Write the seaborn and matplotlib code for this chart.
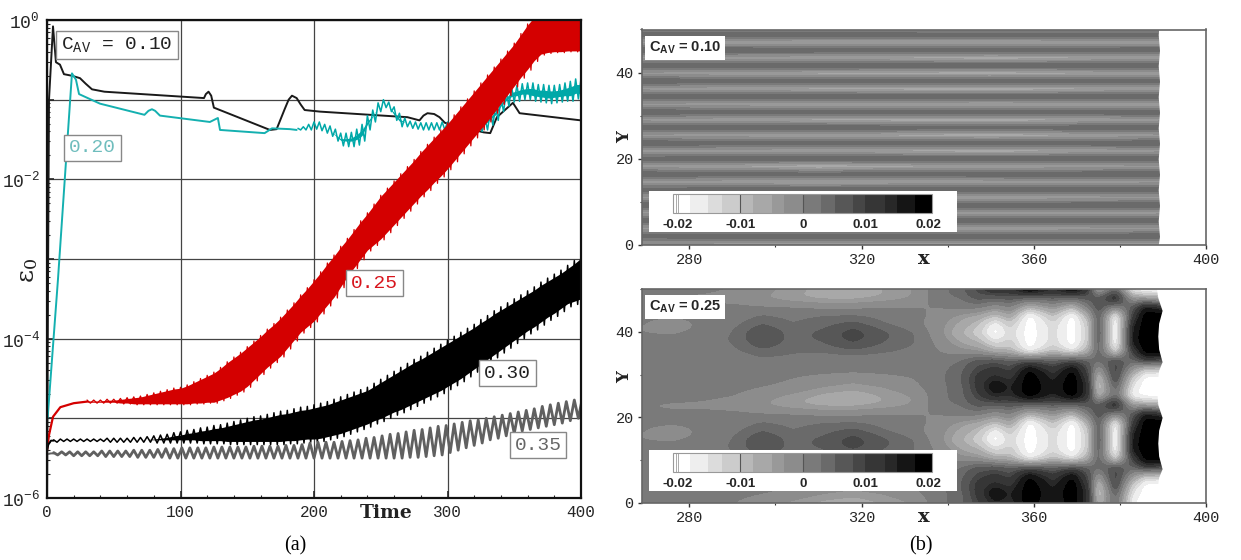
import numpy as np
import matplotlib
matplotlib.use("Agg")
import matplotlib.pyplot as plt
import seaborn as sns
from matplotlib.ticker import FixedLocator, NullFormatter

# ----- growth curves, values are log10(eps0) -----
t_010 = [0, 0.7, 1.5, 4.5, 6.7, 9.7, 12.7, 18.7, 24.7, 29, 33.7, 43, 117.6, 119, 121, 123, 125, 167, 172, 178, 181,
         183.5, 187, 190, 193, 204.5, 270, 279, 282, 285, 290, 294, 298, 327, 332, 337, 349, 354, 400]
log_010 = [-6, -3.51, -1.0, -0.08, -0.53, -0.56, -0.68, -0.70, -0.73, -0.80, -0.87, -0.90, -0.98, -0.93, -0.90,
           -0.95, -1.10, -1.38, -1.37, -1.12, -1.00, -0.95, -0.98, -1.06, -1.13, -1.15, -1.22, -1.26, -1.20, -1.17,
           -1.18, -1.22, -1.29, -1.41, -1.42, -1.22, -1.04, -1.17, -1.26]

t_020 = [0.5, 8.2, 18.7, 21.7, 24, 39.7, 73, 76, 78.6, 81, 84.6, 122, 128, 129.6, 163, 168.5, 182, 187]
log_020 = [-4.99, -3.26, -0.67, -0.75, -0.93, -1.05, -1.19, -1.14, -1.12, -1.14, -1.20, -1.28, -1.23, -1.38, -1.42,
           -1.36, -1.37, -1.38]
# oscillating part of 0.20, one peak and one trough every 4 time units from t = 188
hi_020 = [-1.36, -1.34, -1.31, -1.28, -1.28, -1.31, -1.33, -1.37, -1.42, -1.42, -1.41, -1.37, -1.31, -1.20, -1.13,
          -1.04, -1.00, -1.03, -1.09, -1.17, -1.23, -1.27, -1.28, -1.29, -1.29, -1.29, -1.29, -1.28, -1.28, -1.30,
          -1.30, -1.30, -1.30, -1.30, -1.31, -1.23, -1.15, -1.08, -0.98, -0.90, -0.84, -0.82, -0.80, -0.79, -0.79,
          -0.81, -0.81, -0.82, -0.82, -0.81, -0.79, -0.77, -0.74, -0.74]
lo_020 = [-1.38, -1.38, -1.38, -1.37, -1.39, -1.42, -1.46, -1.52, -1.58, -1.59, -1.59, -1.57, -1.52, -1.38, -1.28,
          -1.15, -1.10, -1.15, -1.26, -1.34, -1.34, -1.36, -1.37, -1.38, -1.38, -1.38, -1.38, -1.38, -1.39, -1.39,
          -1.39, -1.39, -1.39, -1.39, -1.40, -1.38, -1.32, -1.26, -1.15, -1.08, -1.03, -1.02, -1.00, -1.00, -1.02,
          -1.03, -1.04, -1.05, -1.04, -1.03, -1.02, -1.02, -0.99, -0.99]

t_025 = [0, 1.5, 4.5, 10, 20, 30]
log_025 = [-5.40, -5.21, -4.98, -4.86, -4.81, -4.79]
# 0.25 envelope, every 5 time units from t = 30
hi_025 = [-4.77, -4.77, -4.77, -4.76, -4.76, -4.75, -4.74, -4.73, -4.72, -4.70, -4.68, -4.66, -4.64, -4.62, -4.61,
          -4.58, -4.54, -4.50, -4.46, -4.42, -4.36, -4.29, -4.23, -4.17, -4.10, -4.03, -3.96, -3.88, -3.81, -3.73,
          -3.64, -3.55, -3.45, -3.36, -3.26, -3.16, -3.05, -2.95, -2.84, -2.74, -2.63, -2.52, -2.42, -2.31, -2.20,
          -2.11, -2.02, -1.93, -1.84, -1.75, -1.65, -1.56, -1.47, -1.38, -1.29, -1.19, -1.09, -0.99, -0.89, -0.79,
          -0.69, -0.59, -0.49, -0.39, -0.29, -0.17, -0.05, 0.05, 0.1, 0.1, 0.1, 0.1, 0.1, 0.1, 0.1]
lo_025 = [-4.81, -4.81, -4.81, -4.81, -4.81, -4.82, -4.82, -4.83, -4.83, -4.83, -4.83, -4.83, -4.83, -4.83, -4.83,
          -4.83, -4.82, -4.82, -4.81, -4.81, -4.78, -4.75, -4.71, -4.67, -4.61, -4.53, -4.45, -4.37, -4.30, -4.23,
          -4.13, -4.03, -3.93, -3.86, -3.79, -3.69, -3.59, -3.49, -3.36, -3.23, -3.12, -3.01, -2.90, -2.83, -2.76,
          -2.67, -2.58, -2.49, -2.40, -2.31, -2.22, -2.14, -2.05, -1.97, -1.88, -1.78, -1.68, -1.58, -1.48, -1.38,
          -1.28, -1.17, -1.06, -0.95, -0.84, -0.73, -0.63, -0.52, -0.44, -0.42, -0.41, -0.41, -0.40, -0.40, -0.40]

t_030 = [0, 1, 3, 5]
log_030 = [-5.40, -5.33, -5.28, -5.28]
# 0.30 envelope, every 5 time units from t = 5
hi_030 = [-5.27, -5.26, -5.26, -5.26, -5.26, -5.26, -5.26, -5.26, -5.25, -5.25,
          -5.25, -5.25, -5.24, -5.24, -5.23, -5.22, -5.21, -5.20, -5.18, -5.17,
          -5.15, -5.14, -5.12, -5.11, -5.09, -5.08, -5.06, -5.04, -5.02, -5.00,
          -4.98, -4.97, -4.95, -4.93, -4.91, -4.90, -4.88, -4.86, -4.85, -4.83,
          -4.81, -4.79, -4.76, -4.73, -4.70, -4.67, -4.64, -4.61, -4.56, -4.51,
          -4.46, -4.41, -4.36, -4.31, -4.26, -4.22, -4.17, -4.12, -4.07, -4.02,
          -3.97, -3.92, -3.87, -3.82, -3.76, -3.71, -3.65, -3.60, -3.55, -3.50,
          -3.45, -3.40, -3.35, -3.29, -3.24, -3.19, -3.14, -3.08, -3.02, -2.95]
lo_030 = [-5.30, -5.29, -5.29, -5.29, -5.29, -5.29, -5.29, -5.29, -5.30, -5.30,
          -5.30, -5.30, -5.30, -5.30, -5.30, -5.31, -5.31, -5.31, -5.31, -5.31,
          -5.31, -5.31, -5.32, -5.32, -5.32, -5.32, -5.33, -5.33, -5.33, -5.33,
          -5.33, -5.33, -5.33, -5.33, -5.33, -5.32, -5.32, -5.31, -5.30, -5.30,
          -5.29, -5.27, -5.25, -5.23, -5.20, -5.17, -5.14, -5.11, -5.07, -5.04,
          -5.00, -4.96, -4.93, -4.89, -4.85, -4.81, -4.77, -4.73, -4.69, -4.64,
          -4.59, -4.54, -4.48, -4.42, -4.36, -4.30, -4.24, -4.18, -4.12, -4.06,
          -4.00, -3.94, -3.89, -3.83, -3.77, -3.72, -3.66, -3.60, -3.57, -3.54]

t_035 = [0, 3, 5]
log_035 = [-5.45, -5.44, -5.44]
# 0.35 envelope, every 6 time units from t = 5
hi_035 = [-5.43, -5.42, -5.42, -5.42, -5.42, -5.42, -5.41, -5.41, -5.41, -5.41, -5.40, -5.40, -5.40, -5.39, -5.38,
          -5.38, -5.37, -5.37, -5.37, -5.37, -5.36, -5.36, -5.36, -5.36, -5.36, -5.35, -5.35, -5.35, -5.35, -5.34,
          -5.34, -5.33, -5.31, -5.30, -5.30, -5.30, -5.29, -5.28, -5.27, -5.25, -5.24, -5.22, -5.20, -5.19, -5.17,
          -5.15, -5.14, -5.12, -5.10, -5.09, -5.07, -5.05, -5.03, -5.02, -5.00, -4.98, -4.96, -4.94, -4.92, -4.90,
          -4.88, -4.85, -4.83, -4.81, -4.79, -4.77, -4.75]
lo_035 = [-5.46, -5.46, -5.47, -5.47, -5.47, -5.47, -5.48, -5.48, -5.48, -5.48, -5.49, -5.49, -5.49, -5.49, -5.50,
          -5.50, -5.50, -5.50, -5.50, -5.50, -5.50, -5.50, -5.50, -5.50, -5.50, -5.50, -5.50, -5.50, -5.50, -5.50,
          -5.50, -5.50, -5.50, -5.50, -5.50, -5.50, -5.50, -5.50, -5.50, -5.50, -5.50, -5.50, -5.50, -5.50, -5.49,
          -5.49, -5.48, -5.47, -5.46, -5.43, -5.40, -5.37, -5.34, -5.31, -5.27, -5.25, -5.22, -5.19, -5.16, -5.14,
          -5.12, -5.10, -5.08, -5.06, -5.03, -5.00, -4.97]

# ----- contour fields, in units of 1e-3 -----
contour_levels = [-20.74, -20.32, -19.95, -18.09, -15.16, -12.98, -10.05, -7.98, -5.00, -3.03, 0, 2.82, 5.05,
                  7.98, 9.89, 13.03, 14.95, 17.87, 20.53]
contour_grays = ["#ffffff", "#ffffff", "#ffffff", "#eeeeee", "#dcdcdc", "#cccccc", "#b8b8b8", "#a8a8a8", "#999999",
                 "#8c8c8c", "#7a7a7a", "#6a6a6a", "#575757", "#464646", "#363636", "#282828", "#151515", "#000000"]

# C_AV = 0.10, stripes along x
x_010 = [269, 310, 350, 390]
y_010 = [0, 0.25, 2.05, 3.85, 5.65, 7.45, 9.25, 11.05, 12.85, 14.65, 16.45, 18.25, 20.05, 21.85, 23.65, 25.45, 27.25,
         29.05, 30.85, 32.65, 34.45, 36.25, 38.05, 39.85, 41.65, 43.45, 45.25, 47.05, 48.85, 50]
field_010 = [[-4, -5, -5, -5], [-4, -5, -5, -5], [5, 6, 6, 6], [-5, -6, -6, -5], [6, 6, 6, 6], [-5, -6, -6, -5],
             [6, 6, 6, 6], [-5, -6, -6, -5], [5, 6, 6, 6], [-5, -7, -6, -5], [6, 5, 6, 6], [-5, -8, -6, -5],
             [5, 6, 6, 6], [-5, -6, -8, -5], [6, 5, 6, 6], [-5, -6, -8, -5], [6, 6, 5, 6], [-5, -7, -8, -5],
             [6, 5, 6, 6], [-5, -6, -7, -6], [6, 6, 6, 6], [-5, -7, -8, -6], [6, 5, 6, 6], [-5, -7, -8, -6],
             [6, 6, 6, 6], [-5, -6, -8, -6], [6, 6, 6, 6], [-5, -7, -7, -6], [6, 6, 6, 6], [-3, -3, -4, -4]]
edge_y_010 = [0, 2, 5.6, 9.2, 12.8, 16.4, 20, 23.6, 27.2, 30.8, 34.4, 38, 41.6, 45.2, 48.8, 50]
edge_x_010 = [388.9, 389.2, 388.9, 389.2, 388.9, 389.2, 388.9, 389.2, 388.9, 389.2, 388.9, 389.2, 388.9, 389.2, 388.9, 389]

# C_AV = 0.25, one spanwise period (y = 0 to 25), repeated twice
x_025 = [269, 276, 283, 290, 297, 304, 311, 318, 325, 332, 338, 343, 347, 351, 354.5, 359, 364.5, 369, 372.5, 375, 379,
         383, 386, 390]
y_025 = [0, 2.1, 4.2, 6.25, 8.3, 10.4, 12.5, 14.6, 16.7, 18.75, 20.8, 22.9]
field_025 = [
    [2, 2, 1, 0, -2, -4, -6, -7, -5, -3, 2, 4, 9, 14, 13, 20, 14, 20, 12, -8, 3, -18, -20, -20],
    [2, 2, 2, 1, 0, -1, -3, -4, -3, -1, 2, 4, 11, 18, 15, 20, 16, 20, 13, -12, 5, -16, -20, -20],
    [1, 1, 1, 1, 1, 0, -1, -2, -1, 0, 2, 5, 11, 14, 12, 20, 14, 20, 11, -10, 9, -12, -20, -20],
    [1, 1, 1, 1, 1, 1, 1, 1, 1, 1, 2, 4, 9, 11, 9, 18, 11, 18, 8, -4, 10, -4, -12, -12],
    [1, 1, 1, 1, 2, 2, 1, 1, 1, 2, 1, 3, 6, 7, 5, 7, 5, 8, 5, 4, 8, 4, 10, 8],
    [1, 1, 1, 2, 4, 3, 3, 4, 3, 2, 0, -2, -3, -7, -8, -18, -10, -16, -8, 5, -14, 10, 20, 20],
    [1, 1, 2, 3, 7, 4, 5, 8, 5, 3, -1, -5, -8, -14, -12, -20, -14, -20, -12, 6, -20, 16, 20, 20],
    [0, 0, 1, 3, 8, 4, 6, 10, 6, 3, -2, -8, -12, -20, -14, -20, -14, -20, -12, 7, -20, 16, 20, 20],
    [0, -3, 1, 2, 5, 3, 4, 6, 3, 1, -2, -6, -10, -18, -12, -20, -14, -20, -12, 6, -20, 14, 20, 20],
    [1, 1, 1, 1, 3, 2, 3, 3, 2, 1, -1, -4, -6, -10, -6, -20, -10, -20, -8, 6, -18, 10, 20, 20],
    [1, 1, 1, 1, 0, 0, -1, -1, 0, 0, 0, 1, 1, -2, 0, -8, -3, -9, 1, 7, 0, 6, 16, 12],
    [0, -1, -1, -2, -3, -5, -6, -6, -5, -3, 2, 3, 6, 5, 6, 4, 5, 4, 6, 7, 15, -4, -6, -8],
]
edge_y_025 = [0, 3, 6, 8, 11, 14, 17, 20, 23, 27, 31, 33, 36, 39, 42, 45, 48, 50]
edge_x_025 = [388.5, 388.6, 389, 389.8, 389, 388.8, 389, 389.8, 388.8, 388.5, 389, 389.8, 389, 388.8, 389, 389.8, 388.8, 388.5]

W, H = 1241, 560


def px_axes(fig, left, top, right, bottom, **kw):
    return fig.add_axes([left / W, 1 - bottom / H, (right - left) / W, (bottom - top) / H], **kw)


def fig_text(fig, x, y, s, **kw):
    kw.setdefault("ha", "center")
    kw.setdefault("va", "center")
    return fig.text(x / W, 1 - y / H, s, **kw)


def draw_curve(ax, t, log_eps, color, lw):
    sns.lineplot(x=t, y=10.0 ** np.asarray(log_eps), ax=ax, color=color, linewidth=lw, estimator=None, sort=False)


def draw_band(ax, t0, step, hi, lo, color, lw, depth):
    # solid core of the oscillation, then the teeth on top of it
    hi, lo = np.asarray(hi), np.asarray(lo)
    t = t0 + step * np.arange(len(hi))
    mid = (hi + lo) / 2
    if depth is not None:
        upper = np.maximum(hi - depth, mid)
        lower = np.minimum(lo + depth, mid)
        ax.fill_between(t, 10.0 ** lower, 10.0 ** upper, color=color, lw=0, zorder=2)
    ts = np.column_stack((t, t + step / 2)).ravel()
    vals = np.column_stack((hi, lo)).ravel()
    draw_curve(ax, ts, vals, color, lw)


def smooth_grid(x, y, field, x_box, y_box):
    # regular fine grid from the read values, so the contours come out round
    xf = np.arange(269, 390.01, 0.5)
    yf = np.arange(0, 50.01, 0.25)
    field = np.asarray(field, dtype=float)
    rows = np.array([np.interp(xf, x, row) for row in field])
    fine = np.array([np.interp(yf, y, col) for col in rows.T]).T
    for axis, n in ((1, x_box), (0, y_box)):
        if n > 1:
            kernel = np.ones(n) / n
            for _ in range(2):
                pad = [(0, 0), (0, 0)]
                pad[axis] = (n // 2, n // 2)
                padded = np.pad(fine, pad, mode="edge")
                fine = np.apply_along_axis(lambda v: np.convolve(v, kernel, mode="valid"), axis, padded)
    return xf, yf, fine


def draw_field(fig, ax, x, y, field, edge_y, edge_x, tag, tag_y, bar_top, x_box, y_box):
    xf, yf, fine = smooth_grid(x, y, field, x_box, y_box)
    cs = ax.contourf(xf, yf, fine, levels=contour_levels, colors=contour_grays, zorder=1)
    ax.fill_betweenx(edge_y, edge_x, 391, color="white", lw=0, zorder=2)
    ax.set_xlim(269, 400)
    ax.set_ylim(0, 50)
    ax.set_xticks([280, 320, 360, 400])
    ax.set_xticks([300, 340, 380], minor=True)
    ax.set_yticks([0, 20, 40])
    ax.set_yticks([10, 30, 50], minor=True)
    ax.tick_params(which="major", direction="out", length=3, width=1, color="#333333", labelsize=11, pad=3)
    ax.tick_params(which="minor", direction="out", length=1.5, width=0.8, color="#333333")
    for lab in ax.get_xticklabels() + ax.get_yticklabels():
        lab.set_fontfamily("Liberation Mono")
    for sp in ax.spines.values():
        sp.set_visible(True)
        sp.set_color("#666666")
        sp.set_linewidth(1.2)

    box = px_axes(fig, 649, bar_top - 3, 957, bar_top + 38, zorder=3)
    box.set_xticks([])
    box.set_yticks([])
    for sp in box.spines.values():
        sp.set_visible(False)
    cax = px_axes(fig, 673, bar_top, 932, bar_top + 19, zorder=4)
    cbar = fig.colorbar(cs, cax=cax, orientation="horizontal", spacing="proportional")
    cbar.set_ticks([-20, -10, 0, 10, 20])
    cbar.set_ticklabels(["-0.02", "-0.01", "0", "0.01", "0.02"])
    cbar.ax.tick_params(length=0, pad=4, labelsize=9.5)
    for lab in cbar.ax.get_xticklabels():
        lab.set_fontfamily("Liberation Sans")
        lab.set_fontweight("bold")
    cbar.outline.set_edgecolor("#999999")
    cbar.outline.set_linewidth(0.8)
    for v in [-20.3, -19.95]:
        cax.axvline(v, color="#aaaaaa", lw=0.7)
    for v in [-10.05, 0]:
        cax.axvline(v, color="#555555", lw=0.8)

    fig_text(fig, 649, tag_y, tag, ha="left", fontsize=10.5, fontweight="bold", family="Liberation Sans",
             bbox=dict(facecolor="white", edgecolor="none", pad=3.0), zorder=5)


def main():
    sns.set_style("ticks")
    plt.rcParams["font.family"] = ["Liberation Sans", "DejaVu Sans"]
    plt.rcParams["mathtext.default"] = "regular"

    fig = plt.figure(figsize=(W / 100, H / 100), dpi=100)

    # ----- (a) growth curves -----
    ax = px_axes(fig, 47, 20, 581, 498)
    draw_curve(ax, t_010, log_010, "#1a1a1a", 1.4)
    draw_curve(ax, t_020, log_020, "#14b0b0", 1.4)
    draw_band(ax, 188, 4, hi_020, lo_020, "#00a8a8", 1.1, 0.07)
    draw_curve(ax, t_025, log_025, "#d40000", 1.6)
    draw_band(ax, 30, 5, hi_025, lo_025, "#d40000", 0.9, 0.012)
    draw_curve(ax, t_030, log_030, "black", 1.4)
    draw_band(ax, 5, 5, hi_030, lo_030, "black", 1.1, 0.04)
    draw_curve(ax, t_035, log_035, "#606060", 1.4)
    draw_band(ax, 5, 6, hi_035, lo_035, "#606060", 2.0, None)

    ax.set_yscale("log")
    ax.set_xlim(0, 400)
    ax.set_ylim(1e-6, 1)
    ax.set_xticks([0, 100, 200, 300, 400])
    ax.set_xticklabels(["0", "100", "200", "300", "400"], family="Liberation Mono", fontsize=11.5)
    ax.xaxis.set_minor_locator(FixedLocator([20 * i for i in range(21)]))
    ax.set_yticks([10.0 ** -i for i in range(7)])
    ax.set_yticklabels(["$10^{0}$", "", "$10^{-2}$", "", "$10^{-4}$", "", "$10^{-6}$"],
                       family="Liberation Mono", fontsize=13)
    ax.yaxis.set_minor_locator(FixedLocator([m * 10.0 ** -i for i in range(1, 7) for m in range(2, 10)]))
    ax.yaxis.set_minor_formatter(NullFormatter())
    ax.tick_params(which="major", direction="in", length=5, width=1.2, pad=5)
    ax.tick_params(which="minor", direction="in", length=2.5, width=0.8)
    ax.grid(True, which="major", color="#444444", lw=0.9, zorder=0)
    ax.set_axisbelow(True)
    for sp in ax.spines.values():
        sp.set_visible(True)
        sp.set_color("#111111")
        sp.set_linewidth(1.6)

    box_kw = dict(facecolor="white", edgecolor="#888888", linewidth=1.0, pad=3.5)
    lab_kw = dict(family="Liberation Mono", fontsize=14, bbox=box_kw, zorder=6)
    fig_text(fig, 117, 45, "C$_{AV}$ = 0.10", color="#222222", **lab_kw)
    fig_text(fig, 92.5, 148, "0.20", color="#6fbdbd", **lab_kw)
    fig_text(fig, 374.5, 283, "0.25", color="#d8141c", **lab_kw)
    fig_text(fig, 507.5, 373, "0.30", color="#222222", **lab_kw)
    fig_text(fig, 538, 445, "0.35", color="#666666", **lab_kw)

    fig_text(fig, 386, 513, "Time", family="DejaVu Serif", fontweight="bold", fontsize=13.5, color="#222222")
    fig_text(fig, 29, 270, "ε$_{0}$", family="DejaVu Serif", fontsize=18, rotation=90, color="#222222")
    fig_text(fig, 295, 546, "(a)", family="Liberation Serif", fontsize=14.5, color="black")

    # ----- (b) contour maps -----
    ax_top = px_axes(fig, 642, 29.5, 1206, 245)
    draw_field(fig, ax_top, x_010, y_010, field_010, edge_y_010, edge_x_010, "C$_{AV}$ = 0.10", 48, 194, 1, 3)

    y_full = np.concatenate((y_025, np.asarray(y_025) + 25, [50]))
    field_full = np.vstack((field_025, field_025, field_025[0]))
    ax_bot = px_axes(fig, 642, 289, 1206, 503)
    draw_field(fig, ax_bot, x_025, y_full, field_full, edge_y_025, edge_x_025, "C$_{AV}$ = 0.25", 307, 453, 3, 7)

    label_kw = dict(family="DejaVu Serif", fontweight="bold", color="#222222")
    fig_text(fig, 924, 259, "x", fontsize=14, **label_kw)
    fig_text(fig, 924, 517, "x", fontsize=14, **label_kw)
    fig_text(fig, 625, 137, "Y", rotation=90, fontsize=12, **label_kw)
    fig_text(fig, 625, 377, "Y", rotation=90, fontsize=12, **label_kw)
    fig_text(fig, 921, 546, "(b)", family="Liberation Serif", fontsize=14.5, color="black")

    fig.savefig("out.png", dpi=100)


if __name__ == "__main__":
    main()
